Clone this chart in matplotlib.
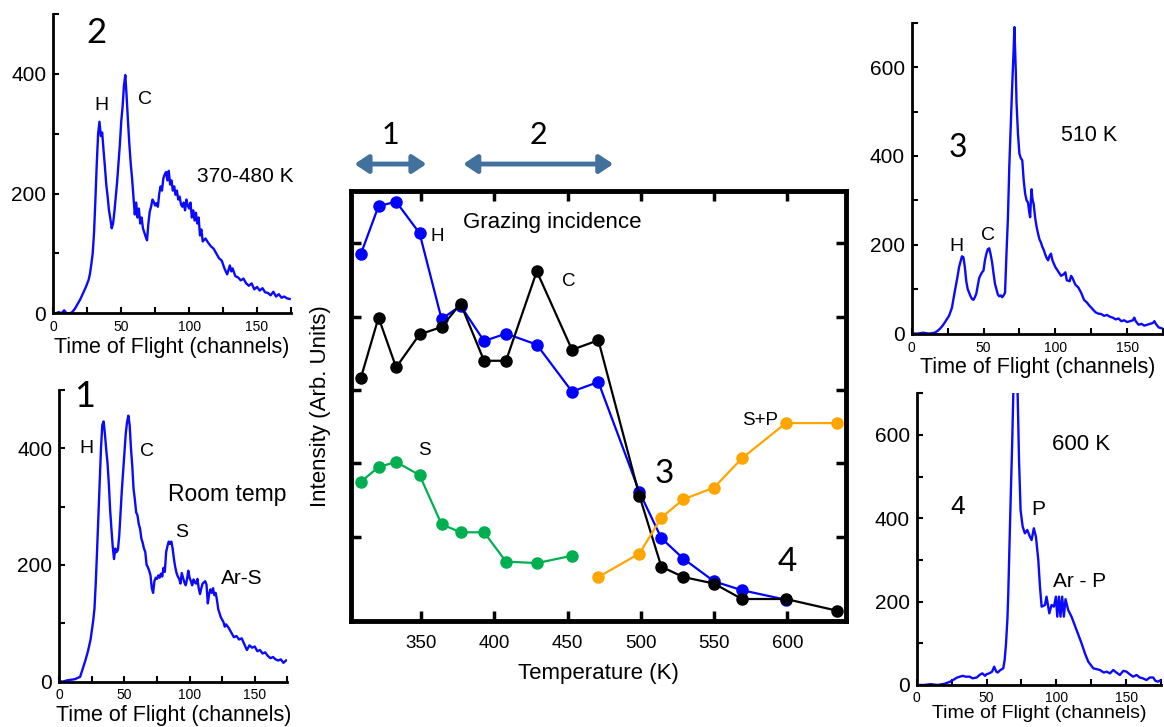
import matplotlib
matplotlib.use("Agg")
import matplotlib.pyplot as plt
from matplotlib.ticker import MultipleLocator

plt.rcParams['font.family'] = ['Liberation Sans', 'DejaVu Sans']

# ---------------- data ----------------
# Grazing-incidence intensities versus surface temperature
temps = [309, 321, 333, 349, 364, 377, 393, 408, 429, 453, 471,
         499, 514, 529, 550, 569, 599, 634]
h_int = [4.86, 5.51, 5.57, 5.14, 3.97, 4.15, 3.67, 3.77, 3.62, 2.98, 3.11,
         1.61, 0.98, 0.70, 0.39, 0.27, 0.14]
c_int = [3.17, 3.99, 3.31, 3.76, 3.86, 4.18, 3.40, 3.40, 4.62, 3.55, 3.68,
         1.56, 0.59, 0.45, 0.36, 0.15, 0.15, -0.01]
s_int = [1.75, 1.95, 2.02, 1.84, 1.17, 1.06, 1.06, 0.66, 0.64, 0.74]
sp_int = [0.45, 0.77, 1.26, 1.51, 1.67, 2.07, 2.55, 2.55]

# Time-of-flight spectra (channel, counts)
rt_ch = [0, 3, 6, 9, 12, 14, 16, 18, 20, 22, 24, 25, 26, 27, 28, 29, 30, 31, 32, 33,
         34, 35, 36, 37, 38, 39, 40, 41, 42, 43, 44, 45, 46, 47, 48, 49, 50, 51, 52, 53,
         54, 55, 56, 57, 58, 59, 60, 61, 62, 63, 64, 65, 66, 67, 68, 69, 70, 71, 72, 73,
         74, 75, 76, 77, 78, 79, 80, 81, 82, 83, 84, 85, 86, 87, 88, 89, 90, 91, 92, 93,
         94, 95, 96, 97, 98, 99, 100, 101, 102, 103, 104, 105, 106, 107, 108, 109, 110,
         111, 112, 113, 114, 115, 116, 117, 118, 119, 120, 121, 122, 124, 126, 127, 128,
         130, 132, 134, 136, 138, 140, 142, 144, 146, 148, 150, 152, 154, 156, 158, 160,
         162, 164, 166, 168, 170, 172, 174]
rt_counts = [0, 0, 2, 3, 4, 6, 8, 22, 36, 52, 72, 88, 104, 125, 170, 225, 285, 350, 400, 440,
             446, 425, 398, 375, 340, 295, 262, 232, 210, 228, 222, 226, 250, 290, 328, 360, 390, 425, 445, 456,
             440, 400, 370, 330, 312, 290, 285, 270, 262, 245, 238, 228, 222, 200, 196, 190, 182, 160, 152, 172,
             178, 176, 182, 178, 185, 180, 195, 188, 222, 232, 240, 236, 240, 228, 210, 196, 186, 180, 176, 168,
             186, 178, 170, 165, 175, 190, 178, 172, 165, 175, 170, 168, 176, 160, 150, 160, 168,
             170, 172, 166, 134, 150, 158, 152, 160, 148, 152, 140, 124, 110, 102, 94, 98,
             92, 84, 76, 78, 72, 74, 64, 54, 62, 58, 60, 52, 54, 48, 50, 44,
             40, 42, 38, 36, 38, 32, 36]

mid_ch = [0, 2, 4, 6, 8, 9, 10, 12, 14, 16, 18, 20, 22, 24, 26, 27, 28, 29, 30, 31,
          32, 33, 34, 35, 36, 37, 38, 39, 40, 41, 42, 43, 44, 45, 46, 47, 48, 49, 50, 51,
          52, 53, 54, 55, 56, 57, 58, 59, 60, 61, 62, 63, 64, 65, 66, 67, 68, 69, 70, 71,
          72, 73, 74, 75, 76, 77, 78, 79, 80, 81, 82, 83, 84, 85, 86, 87, 88, 89, 90, 91,
          92, 93, 94, 95, 96, 97, 98, 99, 100, 101, 102, 103, 104, 105, 106, 107, 108, 109,
          110, 112, 114, 116, 118, 120, 122, 124, 126, 128, 130, 131, 132, 134, 136, 138,
          140, 142, 144, 146, 148, 150, 152, 154, 156, 158, 160, 162, 164, 166, 168, 170,
          172, 174]
mid_counts = [0, 0, 2, 0, 5, 2, 0, 0, 2, 8, 16, 24, 34, 44, 56, 66, 82, 100, 135, 190,
              250, 300, 320, 296, 302, 272, 245, 215, 195, 172, 158, 142, 150, 170, 195, 220, 250, 282, 320, 345,
              380, 398, 362, 320, 282, 250, 225, 195, 165, 185, 160, 175, 150, 160, 142, 135, 128, 122, 150, 170,
              178, 190, 186, 180, 184, 178, 200, 212, 205, 225, 232, 236, 222, 238, 215, 222, 205, 212, 198, 205,
              190, 195, 182, 178, 185, 172, 190, 180, 175, 185, 160, 172, 155, 168, 150, 160, 130, 140,
              120, 125, 118, 112, 108, 100, 92, 88, 75, 65, 80, 70, 75, 62, 60, 55,
              58, 50, 46, 50, 40, 44, 38, 42, 35, 34, 30, 36, 28, 32, 26, 28,
              25, 24]

k510_ch = [0, 4, 8, 12, 16, 18, 20, 22, 24, 26, 28, 30, 32, 33, 34, 35, 36, 37, 38, 39,
           40, 41, 42, 43, 44, 45, 46, 47, 48, 49, 50, 51, 52, 53, 54, 55, 56, 57, 58, 59,
           60, 61, 62, 63, 64, 65, 66, 67, 68, 69, 70, 71, 71.5, 72, 72.5, 73, 74, 75, 76, 77,
           78, 79, 80, 81, 82, 82.5, 83, 83.5, 84, 85, 86, 87, 88, 89, 90, 91, 92, 93, 94,
           95, 96, 97, 98, 100, 102, 104, 106, 107, 108, 110, 111, 112, 114, 116, 118, 120,
           122, 124, 126, 128, 130, 132, 134, 136, 138, 140, 142, 144, 146, 148, 150, 152,
           154, 155, 156, 158, 160, 162, 164, 166, 168, 169, 170, 172, 174]
k510_counts = [0, 0, 2, 0, 2, 6, 12, 20, 30, 40, 58, 95, 130, 150, 162, 174, 172, 150, 118, 100,
               92, 84, 78, 76, 82, 90, 108, 125, 132, 138, 142, 165, 180, 190, 192, 178, 160, 135, 112, 100,
               88, 84, 86, 82, 86, 92, 180, 260, 380, 470, 560, 640, 690, 640, 590, 520, 450, 405, 395, 390,
               345, 315, 300, 295, 270, 262, 300, 325, 305, 290, 260, 240, 225, 212, 205, 195, 188, 178, 170,
               165, 175, 180, 165, 150, 140, 130, 134, 138, 120, 118, 130, 125, 110, 104, 92, 76,
               70, 62, 55, 48, 45, 44, 40, 42, 38, 36, 32, 34, 28, 30, 26, 28,
               30, 36, 28, 20, 22, 18, 20, 22, 24, 28, 22, 14, 12]

k600_ch = [0, 5, 10, 15, 20, 24, 27, 29, 31, 33, 35, 38, 40, 43, 45, 47, 49, 50, 52, 54,
           55.5, 57, 58, 60, 62, 63, 64, 65, 65.6, 66.8, 67.5, 68.4, 69.2, 70, 71, 71.8, 72.3, 73.3, 74.4, 75.9,
           77.5, 79.2, 81.1, 82.3, 83.9, 85.4, 87.1, 88.3, 89.5, 91.9, 93, 95, 96.6, 98.3, 99.7, 100.7, 101.9, 103, 104.2, 105.4,
           106.6, 108.5, 110.9, 114.5, 118.1, 120.5, 122.9, 126.5, 129, 131.2, 134, 136, 138.5, 140.8, 143, 145.5, 148,
           150.3, 152.5, 155, 157.5, 159.8, 162, 164.6, 167, 169.4, 171, 172.9, 175]
k600_counts = [0, 0, 2, 0, 3, 8, 14, 18, 20, 22, 20, 20, 16, 18, 24, 28, 22, 26, 28, 32,
               44, 32, 30, 36, 40, 60, 100, 160, 220, 380, 470, 580, 700, 820, 900, 820, 700, 540, 420, 380,
               364, 372, 356, 348, 376, 356, 300, 236, 188, 192, 212, 172, 192, 188, 212, 164, 212, 164, 212, 164,
               206, 180, 164, 132, 100, 76, 56, 40, 38, 36, 30, 32, 28, 36, 30, 24, 34,
               32, 26, 20, 24, 18, 16, 12, 18, 18, 10, 8, 12]

# ---------------- layout helpers ----------------
W, H = 1164, 727


def px_rect(x0, x1, ytop, ybot):
    return [x0 / W, 1 - ybot / H, (x1 - x0) / W, (ybot - ytop) / H]


def fig_text(x, y, s, **kw):
    fig.text(x / W, 1 - y / H, s, ha='center', va='center', **kw)


fig = plt.figure(figsize=(W / 100, H / 100), dpi=100)

TOF_BLUE = '#0a0aff'
DIGIT_FONT = ['Lato', 'DejaVu Sans']


def spectrum_panel(rect, ch, counts, ymax, xlabel_pad=2, xlabel_size=15.5,
                   xtick_pad=5):
    ax = fig.add_axes(rect)
    ax.plot(ch, counts, color=TOF_BLUE, lw=1.7)
    ax.set_xlim(0, 175)
    ax.set_ylim(0, ymax)
    for side in ('top', 'right'):
        ax.spines[side].set_visible(False)
    for side in ('left', 'bottom'):
        ax.spines[side].set_linewidth(2)
    ax.xaxis.set_major_locator(MultipleLocator(50))
    ax.xaxis.set_minor_locator(MultipleLocator(25))
    ax.yaxis.set_major_locator(MultipleLocator(200))
    ax.yaxis.set_minor_locator(MultipleLocator(100))
    ax.tick_params(which='both', direction='in', length=4, width=1.5)
    ax.tick_params(axis='x', labelsize=10, pad=xtick_pad)
    ax.tick_params(axis='y', labelsize=15, pad=5)
    ax.set_xlabel('Time of Flight (channels)', fontsize=xlabel_size,
                  labelpad=xlabel_pad)
    return ax


# ---------------- spectrum 2 (370-480 K) ----------------
ax2 = spectrum_panel(px_rect(53.3, 291, 14, 313.3), mid_ch, mid_counts, 500)
ax2.text(35.6, 347, 'H', fontsize=14, ha='center', va='center')
ax2.text(67.4, 357, 'C', fontsize=14, ha='center', va='center')
ax2.text(141.5, 228, '370-480 K', fontsize=15, ha='center', va='center')
ax2.text(32, 469, '2', fontsize=25, ha='center', va='center', family=DIGIT_FONT)

# ---------------- spectrum 1 (room temperature) ----------------
ax1 = spectrum_panel(px_rect(59.3, 287.3, 390, 681.5), rt_ch, rt_counts, 500)
ax1.text(19.7, 488, '1', fontsize=26, ha='center', va='center', family=DIGIT_FONT)
ax1.text(20.5, 399, 'H', fontsize=14, ha='center', va='center')
ax1.text(67, 395, 'C', fontsize=14, ha='center', va='center')
ax1.text(129, 321, 'Room temp', fontsize=16.5, ha='center', va='center')
ax1.text(94, 255, 'S', fontsize=14, ha='center', va='center')
ax1.text(140, 177, 'Ar-S', fontsize=15, ha='center', va='center')

# ---------------- spectrum 3 (510 K) ----------------
ax3 = spectrum_panel(px_rect(911.7, 1163, 22.7, 333.6), k510_ch, k510_counts, 700)
ax3.text(32.4, 418, '3', fontsize=23, ha='center', va='center', family=DIGIT_FONT)
ax3.text(123.6, 445, '510 K', fontsize=15.5, ha='center', va='center')
ax3.text(31.3, 196, 'H', fontsize=14, ha='center', va='center')
ax3.text(52.9, 220, 'C', fontsize=14, ha='center', va='center')

# ---------------- spectrum 4 (600 K) ----------------
ax4 = spectrum_panel(px_rect(916.7, 1161, 393.3, 685), k600_ch, k600_counts, 700,
                     xlabel_pad=0.5, xlabel_size=14, xtick_pad=4)
ax4.text(29.3, 428, '4', fontsize=19, ha='center', va='center')
ax4.text(118, 576, '600 K', fontsize=16, ha='center', va='center')
ax4.text(87, 420, 'P', fontsize=15, ha='center', va='center')
ax4.text(117, 248, 'Ar - P', fontsize=15, ha='center', va='center')

# ---------------- temperature dependence ----------------
ax = fig.add_axes(px_rect(350.7, 846, 190.7, 620.7))
ax.plot(temps[:len(h_int)], h_int, 'o-', color='#0000ff', ms=8, lw=1.6)
ax.plot(temps, c_int, 'o-', color='black', ms=8, lw=1.6)
ax.plot(temps[:len(s_int)], s_int, 'o-', color='#00b050', ms=8, lw=1.6)
ax.plot(temps[len(temps) - len(sp_int):], sp_int, 'o-', color='#ffa500', ms=8, lw=1.6)
ax.set_xlim(302, 640)
ax.set_ylim(-0.146, 5.72)
ax.set_xticks([350, 400, 450, 500, 550, 600])
ax.set_yticks([1, 2, 3, 4, 5])
ax.tick_params(direction='in', length=7, width=2.5, top=True, right=True,
               labelleft=False, labelsize=13.5, pad=10)
for sp in ax.spines.values():
    sp.set_linewidth(3.5)
ax.set_xlabel('Temperature (K)', fontsize=16, labelpad=8)
ax.set_ylabel('Intensity (Arb. Units)', fontsize=16, labelpad=14)

ax.text(378.6, 5.29, 'Grazing incidence', fontsize=16, ha='left', va='center')
ax.text(360.9, 5.09, 'H', fontsize=13.5, ha='center', va='center')
ax.text(450.8, 4.48, 'C', fontsize=13.5, ha='center', va='center')
ax.text(352, 2.18, 'S', fontsize=13.5, ha='center', va='center')
ax.text(581.5, 2.59, 'S+P', fontsize=13.5, ha='center', va='center')
ax.text(516.2, 1.86, '3', fontsize=24, ha='center', va='center', family=DIGIT_FONT)
ax.text(599.7, 0.66, '4', fontsize=24, ha='center', va='center', family=DIGIT_FONT)

# temperature ranges of spectra 1 and 2
arrow_kw = dict(arrowstyle='<|-|>,head_length=0.45,head_width=0.3',
                color='#41719c', lw=3.5, mutation_scale=18, shrinkA=0, shrinkB=0)
for t0, t1 in [(304.6, 353.7), (378.8, 481.2)]:
    ax.annotate('', xy=(t1, 1.062), xytext=(t0, 1.062),
                xycoords=('data', 'axes fraction'),
                textcoords=('data', 'axes fraction'),
                arrowprops=arrow_kw, annotation_clip=False)
fig_text(390.8, 135, '1', fontsize=22, family=DIGIT_FONT)
fig_text(538.4, 135, '2', fontsize=22, family=DIGIT_FONT)

fig.savefig('out.png', dpi=100)
